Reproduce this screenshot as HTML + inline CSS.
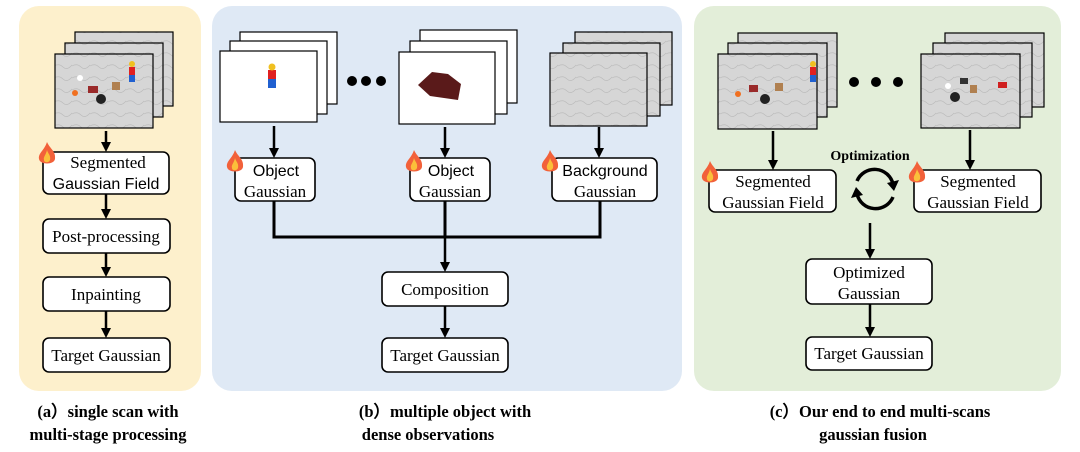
<!DOCTYPE html>
<html><head><meta charset="utf-8"><style>
html,body{margin:0;padding:0;background:#fff;}
svg{display:block;}
.s{font-family:"Liberation Serif",serif;font-size:17px;fill:#000;}
.a{font-family:"Liberation Sans",sans-serif;font-size:16px;fill:#000;}
.c{font-family:"Liberation Serif",serif;font-size:16.5px;font-weight:bold;fill:#000;}
</style></head><body>
<svg width="1080" height="452" viewBox="0 0 1080 452" xmlns="http://www.w3.org/2000/svg">
<defs>
<marker id="ar" markerWidth="10" markerHeight="10" refX="5" refY="5" orient="auto" markerUnits="userSpaceOnUse">
<path d="M0,0 L10,5 L0,10 z" fill="#000"/></marker>
<pattern id="tex" width="18" height="12" patternUnits="userSpaceOnUse">
<rect width="18" height="12" fill="#d6d6d6"/><path d="M0,6 Q5,3 9,7 T18,5" stroke="#bcbcbc" stroke-width="0.7" fill="none"/></pattern>
<g id="flame"><path d="M9,0 C12,7 18,9 17,17 C16,23 2,23 1,17 C0,11 6,9 9,0 z" fill="#f2613a"/><path d="M9,8 C10,12 13,13 12,18 C11,21 6,21 6,18 C5,15 8,13 9,8 z" fill="#fbbf3a"/></g>
</defs>
<rect x="19" y="6" width="182" height="385" rx="20" fill="#fdf0cc"/>
<rect x="212" y="6" width="470" height="385" rx="20" fill="#dfe9f5"/>
<rect x="694" y="6" width="367" height="385" rx="20" fill="#e3eed9"/>
<g stroke="#000" stroke-width="1.2">
<rect x="75" y="32" width="98" height="74" fill="url(#tex)"/>
<rect x="65" y="43" width="98" height="74" fill="url(#tex)"/>
<rect x="55" y="54" width="98" height="74" fill="url(#tex)"/>
<rect x="240" y="32" width="97" height="72" fill="#fff"/>
<rect x="230" y="41" width="97" height="73" fill="#fff"/>
<rect x="220" y="51" width="97" height="71" fill="#fff"/>
<rect x="420" y="30" width="97" height="73" fill="#fff"/>
<rect x="410" y="41" width="97" height="73" fill="#fff"/>
<rect x="399" y="52" width="96" height="72" fill="#fff"/>
<rect x="575" y="32" width="97" height="73" fill="url(#tex)"/>
<rect x="563" y="43" width="97" height="73" fill="url(#tex)"/>
<rect x="550" y="53" width="97" height="73" fill="url(#tex)"/>
<rect x="738" y="33" width="99" height="74" fill="url(#tex)"/>
<rect x="728" y="43" width="99" height="74" fill="url(#tex)"/>
<rect x="718" y="54" width="99" height="75" fill="url(#tex)"/>
<rect x="945" y="33" width="99" height="74" fill="url(#tex)"/>
<rect x="933" y="43" width="99" height="74" fill="url(#tex)"/>
<rect x="921" y="54" width="99" height="74" fill="url(#tex)"/>
</g>
<g>
<rect x="129" y="67" width="6" height="8" fill="#e02020"/><rect x="129" y="75" width="6" height="7" fill="#2060d0"/><circle cx="132" cy="64" r="3" fill="#f0c020"/>
<rect x="88" y="86" width="10" height="7" fill="#9a2a2a"/><circle cx="101" cy="99" r="5" fill="#222"/><circle cx="75" cy="93" r="3" fill="#f07020"/><rect x="112" y="82" width="8" height="8" fill="#b08050"/><circle cx="80" cy="78" r="3" fill="#fff"/>
<rect x="268" y="70" width="8" height="9" fill="#e02020"/><rect x="268" y="79" width="8" height="9" fill="#2060d0"/><circle cx="272" cy="67" r="3.5" fill="#f0c020"/>
<path d="M418,85 L432,72 L448,74 L461,84 L458,100 L430,96 z" fill="#5a1a1a"/>
<rect x="810" y="67" width="6" height="8" fill="#e02020"/><rect x="810" y="75" width="6" height="7" fill="#2060d0"/><circle cx="813" cy="64" r="3" fill="#f0c020"/>
<circle cx="765" cy="99" r="5" fill="#222"/><rect x="749" y="85" width="9" height="7" fill="#9a2a2a"/><circle cx="738" cy="94" r="3" fill="#f07020"/><rect x="775" y="83" width="8" height="8" fill="#b08050"/>
<circle cx="955" cy="97" r="5" fill="#222"/><rect x="960" y="78" width="8" height="6" fill="#333"/><rect x="998" y="82" width="9" height="6" fill="#d02020"/><rect x="970" y="85" width="7" height="8" fill="#b08050"/><circle cx="948" cy="86" r="3" fill="#fff"/>
</g>
<g fill="#000"><circle cx="352" cy="81" r="5"/><circle cx="366" cy="81" r="5"/><circle cx="381" cy="81" r="5"/>
<circle cx="854" cy="82" r="5"/><circle cx="876" cy="82" r="5"/><circle cx="898" cy="82" r="5"/></g>
<g fill="#fff" stroke="#000" stroke-width="1.6">
<rect x="43" y="152" width="126" height="42" rx="6"/>
<rect x="43" y="219" width="127" height="34" rx="6"/>
<rect x="43" y="277" width="127" height="34" rx="6"/>
<rect x="43" y="338" width="127" height="34" rx="6"/>
<rect x="235" y="158" width="80" height="43" rx="6"/>
<rect x="410" y="158" width="80" height="43" rx="6"/>
<rect x="552" y="158" width="105" height="43" rx="6"/>
<rect x="382" y="272" width="126" height="34" rx="6"/>
<rect x="382" y="338" width="126" height="34" rx="6"/>
<rect x="709" y="170" width="127" height="42" rx="6"/>
<rect x="914" y="170" width="127" height="42" rx="6"/>
<rect x="806" y="259" width="126" height="45" rx="6"/>
<rect x="806" y="337" width="126" height="33" rx="6"/>
</g>
<g stroke="#000" stroke-width="2.5" fill="none" marker-end="url(#ar)">
<line x1="106" y1="131" x2="106" y2="147"/>
<line x1="106" y1="194" x2="106" y2="214"/>
<line x1="106" y1="253" x2="106" y2="272"/>
<line x1="106" y1="311" x2="106" y2="333"/>
<line x1="274" y1="126" x2="274" y2="153"/>
<line x1="445" y1="127" x2="445" y2="153"/>
<line x1="599" y1="127" x2="599" y2="153"/>
<line x1="445" y1="237" x2="445" y2="267"/>
<line x1="445" y1="306" x2="445" y2="333"/>
<line x1="773" y1="131" x2="773" y2="165"/>
<line x1="970" y1="130" x2="970" y2="165"/>
<line x1="870" y1="223" x2="870" y2="254"/>
<line x1="870" y1="304" x2="870" y2="332"/>
</g>
<path d="M274,201 V237 H600 V201 M445,201 V237" stroke="#000" stroke-width="3" fill="none"/>
<g stroke="#000" stroke-width="3.5" fill="none">
<path d="M857,181 A19,19 0 0 1 893,184"/>
<path d="M893,197 A19,19 0 0 1 857,194"/>
</g>
<path d="M887,183 L899,180 L894,191 z" fill="#000"/>
<path d="M863,195 L851,198 L856,187 z" fill="#000"/>
<use href="#flame" x="38" y="142"/>
<use href="#flame" x="226" y="150"/>
<use href="#flame" x="405" y="150"/>
<use href="#flame" x="541" y="150"/>
<use href="#flame" x="701" y="161"/>
<use href="#flame" x="908" y="161"/>
<text class="s" x="108" y="168" text-anchor="middle">Segmented</text>
<text class="a" x="106" y="189" text-anchor="middle">Gaussian Field</text>
<text class="s" x="106" y="242" text-anchor="middle">Post-processing</text>
<text class="s" x="106" y="300" text-anchor="middle">Inpainting</text>
<text class="s" x="106" y="361" text-anchor="middle">Target Gaussian</text>
<text class="a" x="276" y="176" text-anchor="middle">Object</text>
<text class="s" x="275" y="197" text-anchor="middle">Gaussian</text>
<text class="a" x="451" y="176" text-anchor="middle">Object</text>
<text class="s" x="450" y="197" text-anchor="middle">Gaussian</text>
<text class="a" x="605" y="176" text-anchor="middle">Background</text>
<text class="s" x="605" y="197" text-anchor="middle">Gaussian</text>
<text class="s" x="445" y="295" text-anchor="middle">Composition</text>
<text class="s" x="445" y="361" text-anchor="middle">Target Gaussian</text>
<text class="c" x="870" y="160" text-anchor="middle" style="font-size:14px">Optimization</text>
<text class="s" x="773" y="187" text-anchor="middle">Segmented</text>
<text class="s" x="773" y="208" text-anchor="middle">Gaussian Field</text>
<text class="s" x="978" y="187" text-anchor="middle">Segmented</text>
<text class="s" x="978" y="208" text-anchor="middle">Gaussian Field</text>
<text class="s" x="869" y="278" text-anchor="middle">Optimized</text>
<text class="s" x="869" y="299" text-anchor="middle">Gaussian</text>
<text class="s" x="869" y="359" text-anchor="middle">Target Gaussian</text>
<text class="c" x="108" y="417" text-anchor="middle">(a）single scan with</text>
<text class="c" x="108" y="440" text-anchor="middle">multi-stage processing</text>
<text class="c" x="445" y="417" text-anchor="middle">(b）multiple object with</text>
<text class="c" x="428" y="440" text-anchor="middle">dense observations</text>
<text class="c" x="880" y="417" text-anchor="middle">(c）Our end to end multi-scans</text>
<text class="c" x="873" y="440" text-anchor="middle">gaussian fusion</text>
</svg>
</body></html>
